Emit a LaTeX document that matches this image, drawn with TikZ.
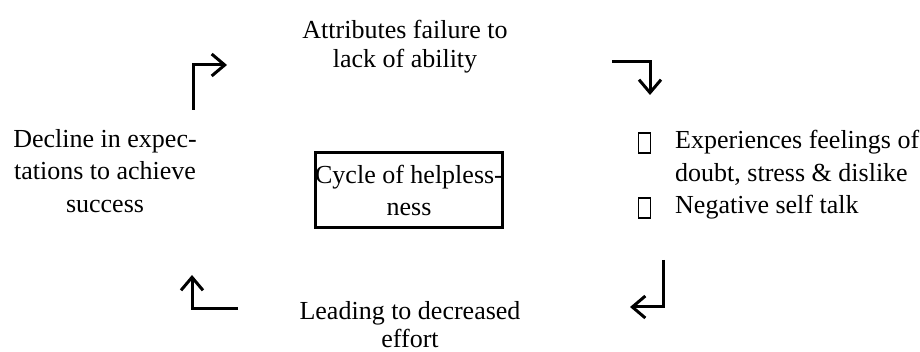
\documentclass[tikz,border=0pt]{standalone}
\usepackage{fontspec}
\setmainfont{Liberation Serif}
\usetikzlibrary{arrows.meta}
\tikzset{
  txt/.style={align=center, inner sep=0pt, font=\fontsize{26}{32.5}\selectfont},
  cyc/.style={line width=3pt, -{Straight Barb[length=13pt,width=22pt,line width=3pt]}},
  centrebox/.style={draw, line width=3pt, minimum width=182pt, minimum height=75pt, inner sep=0pt, align=center, font=\fontsize{26}{32.5}\selectfont},
  glyphbox/.style={draw, line width=1.2pt, minimum width=12pt, minimum height=20pt, inner sep=0pt}
}
\begin{document}
\begin{tikzpicture}[x=1pt,y=-1pt]
\useasboundingbox (0,0) rectangle (920,352);
\node[txt, font=\fontsize{26}{29}\selectfont] (top) at (405,47) {Attributes failure to\\lack of ability};
\node[txt] (left) at (105,171) {Decline in expec-\\tations to achieve\\success};
\node[txt, font=\fontsize{26}{28}\selectfont] (bottom) at (410,325) {Leading to decreased\\effort};
\node[centrebox] (centre) at (409,190.5) {Cycle of helpless-\\ness};
\node[txt, align=left, anchor=west] (right) at (675,175) {Experiences feelings of\\doubt, stress \& dislike\\Negative self talk};
\node[glyphbox] (g1) at (644.5,143) {};
\node[glyphbox] (g2) at (644.5,208) {};
\coordinate (trA) at (612,62);
\coordinate (trB) at (650,95);
\coordinate (tlA) at (193,110);
\coordinate (tlB) at (227,65);
\coordinate (brA) at (663,260);
\coordinate (brB) at (630,307);
\coordinate (blA) at (238,309);
\coordinate (blB) at (192,275);
\draw[cyc] (trA) -| (trB);
\draw[cyc] (tlA) |- (tlB);
\draw[cyc] (brA) |- (brB);
\draw[cyc] (blA) -| (blB);
\end{tikzpicture}
\end{document}
